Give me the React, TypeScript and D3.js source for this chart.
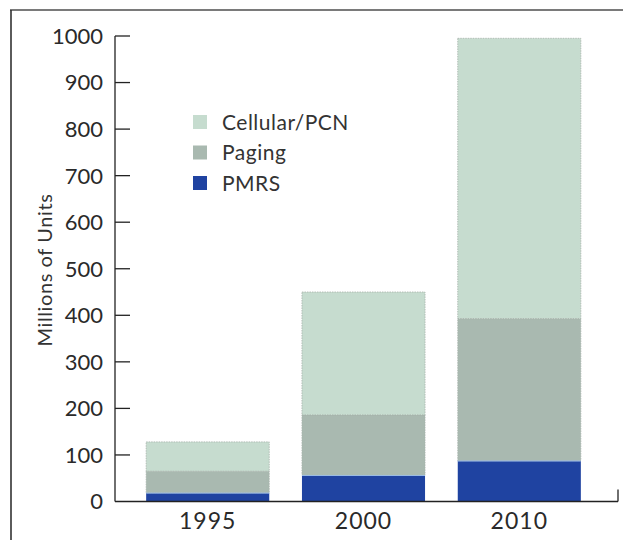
import React from "react";
import * as d3 from "d3";

const years = ["1995", "2000", "2010"];
const pmrs = [19, 57, 88];
const paging = [46, 129, 305];
const cellular = [63, 264, 602];
const seriesNames = ["PMRS", "Paging", "Cellular/PCN"];
const seriesColors = ["#1f43a1", "#a9b9b0", "#c6dccf"];
const yTicks = [0, 100, 200, 300, 400, 500, 600, 700, 800, 900, 1000];
const yLabel = "Millions of Units";

const W = 623;
const H = 540;
const FONT = "Lato, 'Open Sans', sans-serif";

export default function App() {
  const x = d3.scaleBand<string>().domain(years).range([115, 612]).paddingInner(0.21).paddingOuter(0.2);
  const y = d3.scaleLinear().domain([0, 1000]).range([501.5, 36]);

  const rows = years.map((yr, i) => ({ year: yr, PMRS: pmrs[i], Paging: paging[i], "Cellular/PCN": cellular[i] }));
  const stacked = d3.stack<any>().keys(seriesNames)(rows);

  const legendItems = [...seriesNames].reverse();

  return (
    <svg width={W} height={H} style={{ position: "absolute", left: 0, top: 0, background: "#fff" }} fontFamily={FONT}>
      <rect x={0} y={0} width={W} height={H} fill="#fff" />
      {/* frame */}
      <line x1={10} x2={W} y1={10} y2={10} stroke="#7a7a7a" strokeWidth={2} />
      <line x1={11} x2={11} y1={10} y2={H} stroke="#333" strokeWidth={1.6} />

      {/* bars */}
      {stacked.map((layer, li) => (
        <g key={layer.key}>
          {layer.map((d, i) => (
            <rect
              key={i}
              x={x(years[i])}
              width={x.bandwidth()}
              y={y(d[1])}
              height={y(d[0]) - y(d[1])}
              fill={seriesColors[li]}
              stroke={li === 0 ? "none" : "#a7b2ab"}
              strokeWidth={0.8}
              strokeDasharray={li === 0 ? undefined : "1.5 1"}
            />
          ))}
        </g>
      ))}
      {/* light seam above PMRS */}
      {stacked[0].map((d, i) => (
        <line key={i} x1={x(years[i])!} x2={x(years[i])! + x.bandwidth()} y1={y(d[1]) + 0.5} y2={y(d[1]) + 0.5} stroke="#9fc0e6" strokeWidth={1} />
      ))}

      {/* y axis */}
      <line x1={115} x2={115} y1={y(1000)} y2={y(0)} stroke="#222" strokeWidth={1.3} />
      {yTicks.map((t) => (
        <g key={t}>
          {t > 0 && <line x1={115} x2={130} y1={y(t)} y2={y(t)} stroke="#222" strokeWidth={1.3} />}
          <text x={103} y={y(t)} dy="0.36em" textAnchor="end" fontSize={22} fill="#2a2a2a">
            {t}
          </text>
        </g>
      ))}

      {/* x axis */}
      <line x1={115} x2={618} y1={y(0)} y2={y(0)} stroke="#222" strokeWidth={1.3} />
      <line x1={618} x2={618} y1={y(0)} y2={y(0) - 12} stroke="#222" strokeWidth={1.3} />
      {years.map((yr) => (
        <text key={yr} x={x(yr)! + x.bandwidth() / 2} y={521} dy="0.36em" textAnchor="middle" fontSize={23} fill="#2a2a2a" letterSpacing={1}>
          {yr}
        </text>
      ))}

      {/* y label */}
      <text transform="translate(45,270) rotate(-90)" textAnchor="middle" dy="0.36em" fontSize={20} fill="#333" letterSpacing={0.6}>
        {yLabel}
      </text>

      {/* legend */}
      {legendItems.map((name, i) => {
        const ly = 122 + i * 30.5;
        const color = seriesColors[seriesNames.indexOf(name)];
        return (
          <g key={name}>
            <rect x={193} y={ly - 7} width={14} height={14} fill={color} />
            <text x={222} y={ly} dy="0.36em" fontSize={21} fill="#333" letterSpacing={0.5}>
              {name}
            </text>
          </g>
        );
      })}
    </svg>
  );
}
